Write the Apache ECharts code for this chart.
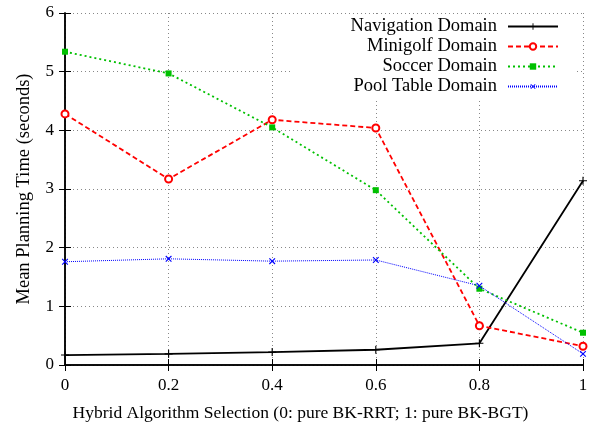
<!DOCTYPE html>
<html><head><meta charset="utf-8">
<script src="https://cdn.jsdelivr.net/npm/echarts@6/dist/echarts.min.js"></script>
<style>html,body{margin:0;padding:0;background:#fff}#c{width:599px;height:428px}</style>
</head><body><div id="c"></div>
<script>
const xValues = [0, 0.2, 0.4, 0.6, 0.8, 1];
const navigation = [0.17, 0.19, 0.22, 0.26, 0.37, 3.14];
const minigolf = [4.28, 3.17, 4.18, 4.04, 0.67, 0.32];
const soccer = [5.34, 4.97, 4.05, 2.98, 1.30, 0.55];
const poolTable = [1.76, 1.81, 1.77, 1.79, 1.35, 0.19];
const seriesNames = ['Navigation Domain', 'Minigolf Domain', 'Soccer Domain', 'Pool Table Domain'];
const yTicks = [0, 1, 2, 3, 4, 5, 6];

const FONT = 'Liberation Serif';
const plus = 'path://M0,4.3 L10,4.3 L10,5.7 L0,5.7 Z M4.3,0 L5.7,0 L5.7,10 L4.3,10 Z';
function pairs(arr){ return xValues.map((x,i)=>[x, arr[i]]); }

const chart = echarts.init(document.getElementById('c'));
const axisLine = {show:true, lineStyle:{color:'#000', width:1.5}};
const tick = {show:true, inside:true, length:6, lineStyle:{color:'#000', width:1}};
const split = {show:true, lineStyle:{color:'#888', type:[1,3], width:1}};
chart.setOption({
  animation:false,
  backgroundColor:'#fff',
  grid:{left:65, right:16, top:13, bottom:63},
  legend:{
    orient:'vertical', right:22, top:14, align:'right',
    backgroundColor:'#fff', padding:[3,18,5,58],
    itemWidth:50, itemHeight:8, itemGap:1,
    textStyle:{fontFamily:FONT, fontSize:18.5, color:'#000', lineHeight:17, padding:[0,6,0,0]},
    data:seriesNames
  },
  xAxis:[{
    type:'value', min:0, max:1, interval:0.2, position:'bottom',
    axisLine, axisTick:tick, splitLine:split,
    axisLabel:{fontFamily:FONT, fontSize:17, color:'#000', margin:12},
    name:'Hybrid Algorithm Selection (0: pure BK-RRT; 1: pure BK-BGT)',
    nameLocation:'middle', nameGap:39,
    nameTextStyle:{fontFamily:FONT, fontSize:17.5, color:'#000', padding:[0,47,0,0]}
  },{
    type:'value', min:0, max:1, interval:0.2, position:'top',
    axisLine, axisTick:tick, splitLine:{show:false}, axisLabel:{show:false}
  }],
  yAxis:[{
    type:'value', min:yTicks[0], max:yTicks[yTicks.length-1], interval:1, position:'left',
    axisLine, axisTick:tick, splitLine:split,
    axisLabel:{fontFamily:FONT, fontSize:17, color:'#000', margin:11},
    name:'Mean Planning Time (seconds)', nameLocation:'middle', nameGap:31, nameRotate:90,
    nameTextStyle:{fontFamily:FONT, fontSize:18.5, color:'#000'}
  },{
    type:'value', min:yTicks[0], max:yTicks[yTicks.length-1], interval:1, position:'right',
    axisLine, axisTick:tick, splitLine:{show:false}, axisLabel:{show:false}
  }],
  series:[
    {name:seriesNames[0], type:'line', data:pairs(navigation),
     symbol:plus, symbolSize:8, itemStyle:{color:'#000'},
     lineStyle:{color:'#000', width:1.8, type:'solid'}},
    {name:seriesNames[1], type:'line', data:pairs(minigolf),
     symbol:'emptyCircle', symbolSize:7, itemStyle:{color:'#ff0000', borderWidth:1.6},
     lineStyle:{color:'#ff0000', width:1.8, type:[5,3]}},
    {name:seriesNames[2], type:'line', data:pairs(soccer),
     symbol:'rect', symbolSize:6, itemStyle:{color:'#00c000'},
     lineStyle:{color:'#00c000', width:1.8, type:[2,3]}},
    {name:seriesNames[3], type:'line', data:pairs(poolTable),
     symbol:plus, symbolRotate:45, symbolSize:8, itemStyle:{color:'#0000ff'},
     lineStyle:{color:'#0000ff', width:1, type:[1,1]}}
  ]
});
</script></body></html>
